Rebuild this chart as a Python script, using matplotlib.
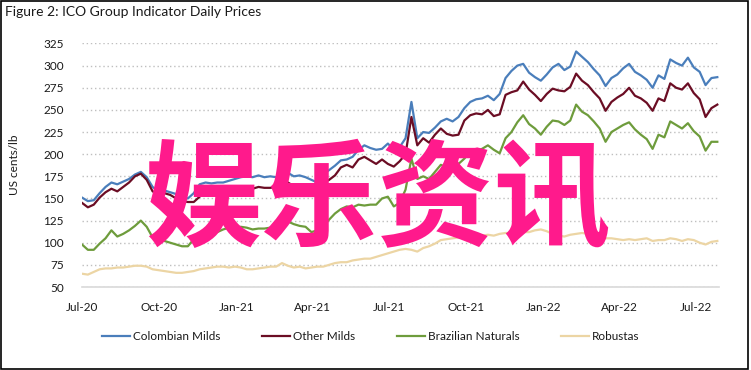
"""ICO group indicator daily prices, Jul-20 to Jul-22, four coffee groups."""
import matplotlib
matplotlib.use("Agg")
import matplotlib.pyplot as plt
import matplotlib.dates as mdates
import pandas as pd
from matplotlib.patches import Rectangle

plt.rcParams["font.family"] = ["Lato", "DejaVu Sans"]

INK = "#1a1a1a"
GRID = "#bfbfbf"
COLORS = {
    "Colombian Milds": "#4a7ebb",
    "Other Milds": "#6b0d24",
    "Brazilian Naturals": "#6e9c3c",
    "Robustas": "#ecd5a4",
}

# weekly samples (US cents/lb)
dates = pd.date_range("2020-07-01", periods=109, freq="7D")

colombian = [151, 147, 148, 156, 163, 168, 166, 169, 172, 177,
             180, 174, 163, 158, 159, 157, 155, 152, 150, 156,
             166, 168, 167, 168, 168, 170, 172, 174, 175, 174,
             176, 174, 175, 174, 176, 179, 175, 176, 174, 171,
             168, 177, 182, 187, 193, 194, 197, 205, 210, 207,
             205, 206, 212, 205, 208, 218, 259, 218, 225, 224,
             230, 237, 240, 237, 242, 252, 259, 262, 263, 266,
             261, 268, 286, 294, 300, 302, 292, 287, 283, 290,
             298, 302, 295, 299, 316, 310, 304, 296, 289, 277,
             286, 290, 297, 302, 293, 289, 284, 275, 289, 285,
             307, 303, 300, 309, 298, 293, 278, 286, 287]

other = [145, 140, 143, 151, 157, 161, 158, 163, 168, 175,
         178, 171, 158, 155, 156, 154, 150, 147, 146, 146,
         152, 158, 160, 161, 161, 161, 162, 161, 162, 161,
         163, 162, 162, 163, 164, 168, 164, 163, 162, 164,
         165, 168, 171, 176, 185, 188, 185, 194, 197, 193,
         189, 194, 189, 186, 192, 200, 242, 210, 218, 213,
         222, 229, 223, 221, 222, 238, 244, 246, 245, 250,
         243, 245, 267, 270, 272, 282, 273, 267, 260, 268,
         274, 272, 271, 276, 291, 283, 278, 270, 263, 249,
         259, 264, 268, 275, 266, 263, 258, 249, 263, 260,
         280, 275, 273, 280, 269, 262, 242, 252, 256]

brazilian = [98, 92, 92, 99, 105, 114, 107, 110, 114, 119,
             125, 118, 106, 103, 102, 100, 98, 96, 96, 104,
             110, 109, 110, 112, 115, 117, 116, 118, 117, 115,
             116, 116, 117, 118, 121, 124, 121, 119, 118, 112,
             114, 119, 126, 133, 138, 141, 140, 143, 142, 143,
             143, 150, 152, 141, 145, 160, 195, 172, 175, 172,
             180, 188, 185, 184, 189, 195, 203, 204, 206, 210,
             205, 201, 218, 225, 236, 244, 234, 229, 222, 231,
             238, 237, 233, 238, 256, 248, 244, 237, 229, 214,
             225, 229, 233, 236, 228, 222, 217, 206, 222, 219,
             237, 233, 229, 235, 226, 220, 204, 214, 214]

robustas = [65, 64, 67, 70, 71, 71, 72, 72, 73, 74,
            74, 73, 70, 69, 68, 67, 66, 66, 67, 68,
            70, 71, 72, 73, 73, 72, 73, 72, 70, 70,
            71, 72, 73, 73, 77, 74, 72, 73, 71, 72,
            73, 73, 75, 77, 78, 78, 80, 81, 82, 82,
            84, 86, 88, 90, 92, 93, 92, 90, 94, 96,
            99, 103, 104, 105, 106, 106, 107, 107, 108, 109,
            108, 110, 111, 111, 112, 112, 112, 114, 115, 113,
            110, 108, 107, 109, 110, 111, 110, 109, 107, 105,
            105, 104, 103, 104, 103, 104, 105, 102, 103, 103,
            105, 104, 102, 104, 103, 100, 98, 101, 102]

series = {
    "Colombian Milds": colombian,
    "Other Milds": other,
    "Brazilian Naturals": brazilian,
    "Robustas": robustas,
}

fig = plt.figure(figsize=(7.51, 3.70), dpi=100)
fig.patch.set_facecolor("white")
ax = fig.add_axes([82 / 751, 1 - 287 / 370, (719 - 82) / 751, (287 - 43.5) / 370])

for name, vals in series.items():
    ax.plot(dates, vals, color=COLORS[name], linewidth=1.6, label=name,
            solid_joinstyle="round")

ax.set_ylim(50, 325)
ax.set_yticks(range(50, 326, 25))
ax.set_xlim(pd.Timestamp("2020-07-01"), pd.Timestamp("2022-07-29"))
ax.set_xticks(pd.date_range("2020-07-01", "2022-07-01", freq="3MS"))
ax.xaxis.set_major_formatter(mdates.DateFormatter("%b-%y"))
ax.tick_params(length=0, labelsize=8.5, colors=INK)
ax.tick_params(axis="y", pad=13)
ax.tick_params(axis="x", pad=11)
ax.grid(axis="y", color=GRID, linestyle=(0, (1, 2)), linewidth=1.0)
ax.set_axisbelow(True)
for s in ["top", "right", "left"]:
    ax.spines[s].set_visible(False)
ax.spines["bottom"].set_color("#d9d9d9")
ax.spines["bottom"].set_linewidth(1.2)

ax.set_ylabel("US cents/lb", fontsize=8.5, color=INK, labelpad=8)
ax.yaxis.set_label_coords(-0.098, 0.5)

fig.text(5 / 751, 1 - 12 / 370, "Figure 2: ICO Group Indicator Daily Prices",
         fontsize=10, color=INK, va="center", ha="left")

fig.legend(loc="center", bbox_to_anchor=(371 / 751, 1 - 337 / 370), ncol=4,
           frameon=False, fontsize=8.5, handlelength=2.4, handletextpad=0.25,
           columnspacing=3.5, labelcolor=INK)

# pink overlay text
fig.text(377 / 751, 1 - 202 / 370, "娱乐资讯", fontsize=84, color="#ff1a8c",
         fontweight="black", ha="center", va="center",
         family=["Noto Sans CJK SC", "DejaVu Sans"])

fig.patches.append(Rectangle((0.5 / 751, 1 - 369 / 370), 747.5 / 751, 368.5 / 370,
                             transform=fig.transFigure, fill=False,
                             edgecolor="black", linewidth=1.2))

fig.savefig("out.png", dpi=100, facecolor="white")
